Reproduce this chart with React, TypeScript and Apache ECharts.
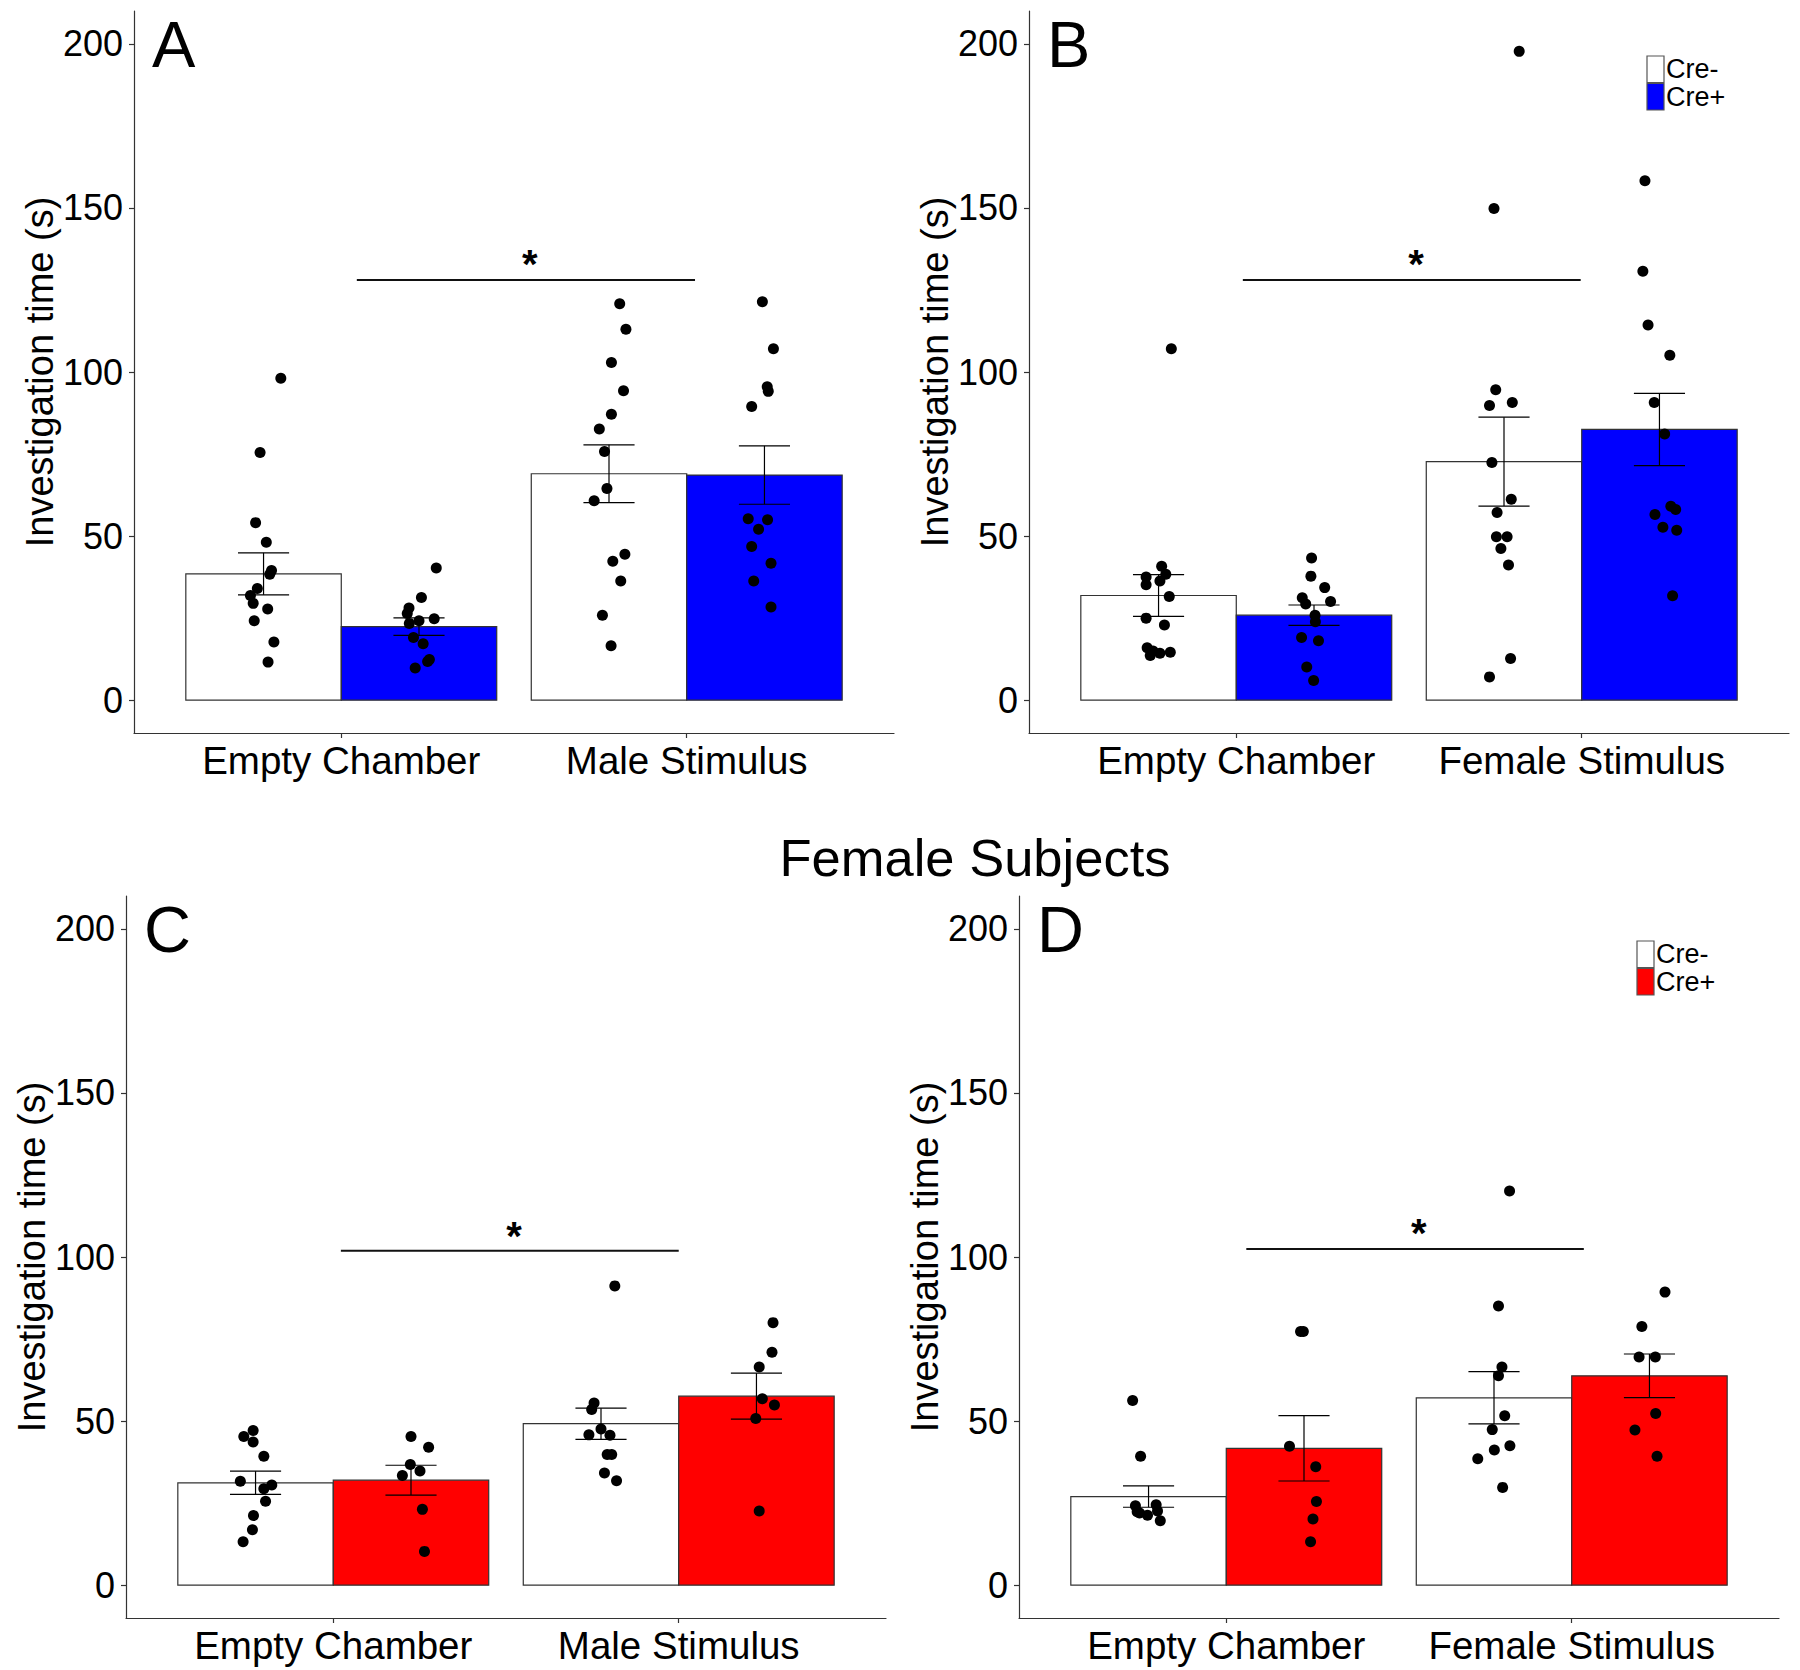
import React, { useEffect, useRef } from "react";
import * as echarts from "echarts";

const FONT = "'Liberation Sans', Arial, Helvetica, sans-serif";

const CATS_MALE = ["Empty Chamber", "Male Stimulus"];
const CATS_FEMALE = ["Empty Chamber", "Female Stimulus"];
const Y_TICKS = [0, 50, 100, 150, 200];
const X_TICKS = [1, 2];
const Y_NAME = "Investigation time (s)";
const TITLE = "Female Subjects";
const LEGEND_LABELS = ["Cre-", "Cre+"];
const LETTERS = ["A", "B", "C", "D"];

// bar order: [Empty Cre-, Empty Cre+, Stimulus Cre-, Stimulus Cre+]
const MEAN_A = [38.5, 22.4, 69.0, 68.6];
const SE_A = [6.4, 2.65, 8.8, 8.9];
const MEAN_B = [31.9, 25.9, 72.7, 82.5];
const SE_B = [6.35, 3.1, 13.55, 11.0];
const MEAN_C = [31.2, 32.0, 49.2, 57.6];
const SE_C = [3.55, 4.55, 4.75, 7.0];
const MEAN_D = [27.0, 41.7, 57.1, 63.8];
const SE_D = [3.25, 9.95, 7.95, 6.65];

// individual animals: [horizontal jitter, seconds]
const A_EMPTY_NEG = [[0.05, 98.1], [-0.01, 75.5], [-0.023, 54.1], [0.008, 48.1], [0.023, 39.5], [0.018, 38.4], [-0.018, 34.0], [-0.038, 31.9], [-0.03, 29.5], [0.012, 27.8], [-0.027, 24.2], [0.03, 17.7], [0.013, 11.6]];
const A_EMPTY_POS = [[0.05, 40.3], [0.007, 31.3], [-0.029, 28.1], [-0.034, 26.4], [0.044, 24.8], [0, 24.2], [-0.028, 23.4], [-0.016, 19.1], [0.012, 17.2], [0.03, 12.4], [0.025, 11.8], [-0.011, 9.8]];
const A_STIM_NEG = [[0.031, 120.8], [0.049, 113.0], [0.007, 102.9], [0.042, 94.3], [0.007, 87.1], [-0.028, 82.6], [-0.013, 75.8], [-0.006, 64.5], [-0.043, 60.8], [0.046, 44.5], [0.011, 42.3], [0.034, 36.3], [-0.019, 25.9], [0.006, 16.6]];
const A_STIM_POS = [[-0.006, 121.4], [0.026, 107.1], [0.008, 95.5], [0.011, 94.1], [-0.037, 89.5], [-0.047, 55.3], [0.009, 55.0], [-0.017, 52.1], [-0.037, 46.8], [0.019, 41.7], [-0.031, 36.3], [0.019, 28.4]];

const B_EMPTY_NEG = [[0.037, 107.1], [0.009, 40.8], [0.021, 38.4], [-0.036, 37.5], [0.004, 36.3], [-0.036, 35.2], [0.031, 31.6], [-0.036, 25.0], [0.017, 22.9], [-0.033, 16.0], [-0.016, 15.0], [-0.024, 13.6], [0.004, 14.3], [0.034, 14.6]];
const B_EMPTY_POS = [[-0.007, 43.3], [-0.009, 37.8], [0.031, 34.3], [-0.034, 31.2], [0.048, 30.1], [-0.024, 29.3], [0.003, 25.9], [0.004, 23.9], [-0.036, 19.1], [0.013, 18.1], [-0.021, 10.1], [-0.001, 6.0]];
const B_STIM_NEG = [[0.044, 197.7], [-0.029, 149.8], [-0.024, 94.6], [-0.042, 89.8], [0.024, 90.7], [-0.035, 72.4], [0.021, 61.2], [-0.02, 57.2], [-0.022, 49.8], [0.009, 49.8], [-0.009, 46.2], [0.013, 41.2], [0.019, 12.7], [-0.042, 7.1]];
const B_STIM_POS = [[-0.042, 158.3], [-0.048, 130.7], [-0.033, 114.3], [0.03, 105.1], [-0.015, 90.7], [0.015, 81.1], [0.033, 59.1], [0.047, 58.1], [-0.013, 56.6], [0.01, 52.7], [0.05, 51.8], [0.038, 31.8]];

const C_EMPTY_NEG = [[-0.007, 47.1], [-0.034, 45.3], [-0.007, 43.6], [0.024, 39.3], [-0.044, 31.7], [0.047, 30.5], [0.024, 29.4], [0.029, 25.6], [-0.006, 21.2], [-0.009, 16.9], [-0.036, 13.2]];
const C_EMPTY_POS = [[0, 45.3], [0.051, 42.0], [-0.002, 36.8], [0.026, 34.8], [-0.025, 33.4], [0.033, 23.1], [0.039, 10.3]];
const C_STIM_NEG = [[0.04, 91.2], [-0.02, 55.5], [-0.027, 53.5], [0, 47.6], [-0.035, 45.8], [0.026, 45.7], [0.018, 39.8], [0.031, 39.8], [0.01, 34.2], [0.045, 31.8]];
const C_STIM_POS = [[0.048, 80.0], [0.045, 71.0], [0.008, 66.5], [0.017, 56.8], [0.052, 54.9], [-0.002, 50.8], [0.008, 22.6]];

const D_EMPTY_NEG = [[-0.046, 56.3], [-0.023, 39.3], [0.022, 24.5], [-0.038, 24.2], [-0.033, 22.4], [0.026, 22.6], [-0.026, 22.0], [-0.003, 21.3], [0.034, 19.6]];
const D_EMPTY_POS = [[-0.01, 77.3], [-0.002, 77.3], [-0.042, 42.3], [0.034, 36.1], [0.036, 25.5], [0.026, 20.2], [0.019, 13.2]];
const D_STIM_NEG = [[0.045, 120.1], [0.013, 85.1], [0.023, 66.5], [0.013, 63.8], [0.031, 51.6], [-0.005, 47.4], [0.046, 42.5], [0.001, 41.2], [-0.047, 38.5], [0.025, 29.8]];
const D_STIM_POS = [[0.045, 89.3], [-0.022, 78.8], [-0.03, 69.5], [0.017, 69.5], [0.018, 52.3], [-0.042, 47.3], [0.022, 39.3]];

// significance bracket: [x start, x end, y, star x, star y]
const SIG_A = [1.045, 2.024, 128.0, 1.546, 133.0];
const SIG_B = [1.019, 1.997, 128.0, 1.52, 133.0];
const SIG_C = [1.022, 2.0, 101.9, 1.523, 106.4];
const SIG_D = [1.058, 2.035, 102.4, 1.557, 107.3];

const BLUE = "#0000FF";
const RED = "#FF0000";

const PANELS = [
  { cats: CATS_MALE, mean: MEAN_A, se: SE_A, pts: [A_EMPTY_NEG, A_EMPTY_POS, A_STIM_NEG, A_STIM_POS], fill: BLUE, sig: SIG_A, legend: false, grid: { left: 134, top: 11 } },
  { cats: CATS_FEMALE, mean: MEAN_B, se: SE_B, pts: [B_EMPTY_NEG, B_EMPTY_POS, B_STIM_NEG, B_STIM_POS], fill: BLUE, sig: SIG_B, legend: true, grid: { left: 1029, top: 11 } },
  { cats: CATS_MALE, mean: MEAN_C, se: SE_C, pts: [C_EMPTY_NEG, C_EMPTY_POS, C_STIM_NEG, C_STIM_POS], fill: RED, sig: SIG_C, legend: false, grid: { left: 126, top: 896 } },
  { cats: CATS_FEMALE, mean: MEAN_D, se: SE_D, pts: [D_EMPTY_NEG, D_EMPTY_POS, D_STIM_NEG, D_STIM_POS], fill: RED, sig: SIG_D, legend: true, grid: { left: 1019, top: 896 } },
];

const GRID_W = 760;
const GRID_H = 722;
const DODGE = 0.45;

function barCenter(i: number) {
  const group = Math.floor(i / 2) + 1;
  return group + (i % 2 === 0 ? -DODGE / 2 : DODGE / 2);
}

export default function App() {
  const ref = useRef<HTMLDivElement>(null);

  useEffect(() => {
    if (!ref.current) return;
    const chart = echarts.init(ref.current, undefined, { renderer: "svg" });
    const axisColor = "#333333";

    const grids: any[] = [];
    const xAxes: any[] = [];
    const yAxes: any[] = [];
    const series: any[] = [];
    const graphics: any[] = [];

    PANELS.forEach((p, k) => {
      grids.push({ left: p.grid.left, top: p.grid.top, width: GRID_W, height: GRID_H });
      xAxes.push({
        type: "value",
        gridIndex: k,
        min: 0.4,
        max: 2.6,
        axisLine: { show: true, onZero: false, lineStyle: { color: axisColor, width: 1.2 } },
        axisTick: { show: true, customValues: X_TICKS, length: 5, lineStyle: { color: axisColor, width: 1.2 } },
        axisLabel: {
          customValues: X_TICKS,
          formatter: (v: number) => p.cats[Math.round(v) - 1] ?? "",
          fontSize: 38.5,
          color: "#000",
          fontFamily: FONT,
          margin: 8,
        },
        splitLine: { show: false },
      });
      yAxes.push({
        type: "value",
        gridIndex: k,
        min: -10,
        max: 210,
        axisLine: { show: true, onZero: false, lineStyle: { color: axisColor, width: 1.2 } },
        axisTick: { show: true, customValues: Y_TICKS, length: 5, lineStyle: { color: axisColor, width: 1.2 } },
        axisLabel: { customValues: Y_TICKS, fontSize: 36, color: "#000", fontFamily: FONT, margin: 11 },
        splitLine: { show: false },
        name: Y_NAME,
        nameLocation: "middle",
        nameRotate: 90,
        nameGap: 72,
        nameTextStyle: { fontSize: 38, color: "#000", fontFamily: FONT },
      });

      const fills = ["#FFFFFF", p.fill];

      series.push({
        type: "custom",
        xAxisIndex: k,
        yAxisIndex: k,
        z: 1,
        data: p.mean.map((m, i) => [i, m]),
        renderItem: (params: any, api: any) => {
          const i = api.value(0);
          const m = api.value(1);
          const c = barCenter(i);
          const a = api.coord([c - DODGE / 2, m]);
          const b = api.coord([c + DODGE / 2, 0]);
          return {
            type: "rect",
            shape: { x: a[0], y: a[1], width: b[0] - a[0], height: b[1] - a[1] },
            style: { fill: fills[i % 2], stroke: "#333333", lineWidth: 1.2 },
          };
        },
      });

      series.push({
        type: "custom",
        xAxisIndex: k,
        yAxisIndex: k,
        z: 2,
        data: p.mean.map((m, i) => [i, m - p.se[i], m + p.se[i]]),
        renderItem: (params: any, api: any) => {
          const i = api.value(0);
          const c = barCenter(i);
          const lo = api.coord([c, api.value(1)]);
          const hi = api.coord([c, api.value(2)]);
          const capL = api.coord([c - 0.074, 0])[0];
          const capR = api.coord([c + 0.074, 0])[0];
          const st = { stroke: "#000", lineWidth: 1.2 };
          return {
            type: "group",
            children: [
              { type: "line", shape: { x1: lo[0], y1: lo[1], x2: hi[0], y2: hi[1] }, style: st },
              { type: "line", shape: { x1: capL, y1: lo[1], x2: capR, y2: lo[1] }, style: st },
              { type: "line", shape: { x1: capL, y1: hi[1], x2: capR, y2: hi[1] }, style: st },
            ],
          };
        },
      });

      const pts: number[][] = [];
      p.pts.forEach((grp, i) => {
        const c = barCenter(i);
        grp.forEach((d) => pts.push([c + d[0], d[1]]));
      });
      series.push({
        type: "scatter",
        xAxisIndex: k,
        yAxisIndex: k,
        z: 3,
        symbol: "circle",
        symbolSize: 11,
        itemStyle: { color: "#000", opacity: 1 },
        data: pts,
      });

      series.push({
        type: "custom",
        xAxisIndex: k,
        yAxisIndex: k,
        z: 2,
        data: [p.sig],
        renderItem: (params: any, api: any) => {
          const a = api.coord([api.value(0), api.value(2)]);
          const b = api.coord([api.value(1), api.value(2)]);
          const s = api.coord([api.value(3), api.value(4)]);
          return {
            type: "group",
            children: [
              { type: "line", shape: { x1: a[0], y1: a[1], x2: b[0], y2: b[1] }, style: { stroke: "#111", lineWidth: 2 } },
              {
                type: "text",
                x: s[0],
                y: s[1],
                style: { text: "*", fontSize: 40, fontWeight: "bold", fontFamily: FONT, fill: "#000", align: "center", verticalAlign: "middle" },
              },
            ],
          };
        },
      });

      graphics.push({
        type: "text",
        left: p.grid.left + 18,
        top: p.grid.top + 1,
        style: { text: LETTERS[k], fontSize: 65, fontFamily: FONT, fill: "#000" },
      });

      if (p.legend) {
        const lx = p.grid.left + GRID_W - 142;
        const ly = p.grid.top + 45;
        const kh = 26.5;
        fills.forEach((f, j) => {
          graphics.push({
            type: "rect",
            shape: { x: lx, y: ly + j * (kh + 1), width: 17, height: kh },
            style: { fill: f, stroke: "#555", lineWidth: 1.2 },
          });
          graphics.push({
            type: "text",
            x: lx + 19,
            y: ly + j * (kh + 1) + kh / 2,
            style: { text: LEGEND_LABELS[j], fontSize: 27, lineHeight: 26, fontFamily: FONT, fill: "#000", verticalAlign: "middle", align: "left" },
          });
        });
      }
    });

    graphics.push({
      type: "text",
      x: 975,
      y: 857,
      style: { text: TITLE, fontSize: 52.5, fontFamily: FONT, fill: "#000", align: "center", verticalAlign: "middle" },
    });

    chart.setOption({
      animation: false,
      backgroundColor: "#FFFFFF",
      grid: grids,
      xAxis: xAxes,
      yAxis: yAxes,
      series,
      graphic: graphics,
    });

    return () => chart.dispose();
  }, []);

  return (
    <div
      ref={ref}
      style={{ position: "absolute", left: 0, top: 0, width: 1800, height: 1670, background: "#fff" }}
    />
  );
}
